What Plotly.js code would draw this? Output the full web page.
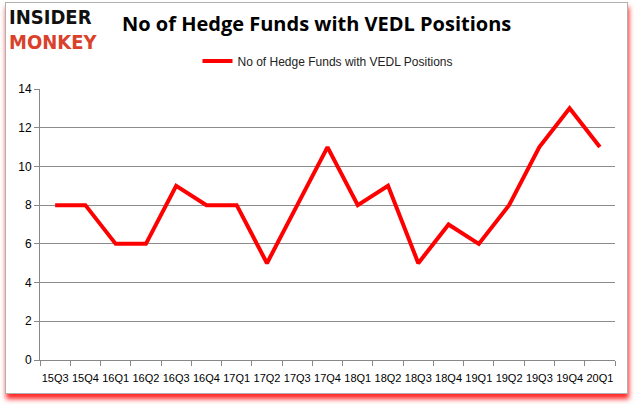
<!DOCTYPE html>
<html>
<head>
<meta charset="utf-8">
<script src="https://cdn.plot.ly/plotly-3.0.1.min.js"></script>
<style>
html,body{margin:0;padding:0;background:#fff;width:635px;height:405px;overflow:hidden;}
#frame{position:absolute;left:5px;top:2px;width:621px;height:390px;border:1px solid #b0b0b0;background:#fff;box-shadow:1px 5px 5px rgba(255,0,0,0.85);}
#chart{position:absolute;left:0;top:0;width:635px;height:405px;}
</style>
</head>
<body>
<div id="frame"></div>
<div id="chart"></div>
<script>
const quarters = ["15Q3","15Q4","16Q1","16Q2","16Q3","16Q4","17Q1","17Q2","17Q3","17Q4","18Q1","18Q2","18Q3","18Q4","19Q1","19Q2","19Q3","19Q4","20Q1"];
const funds = [8,8,6,6,9,8,8,5,8,11,8,9,5,7,6,8,11,13,11];
const seriesName = "No of Hedge Funds with VEDL Positions";
const chartTitle = "No of Hedge Funds with VEDL Positions";

const trace = {
  x: quarters, y: funds, type: "scatter", mode: "lines", name: seriesName,
  line: {color: "#ff0000", width: 4}
};
const layout = {
  width: 635, height: 405,
  paper_bgcolor: "rgba(0,0,0,0)", plot_bgcolor: "rgba(0,0,0,0)",
  margin: {l: 40, r: 20, t: 89, b: 45},
  font: {family: "Liberation Sans, Arial, sans-serif", size: 12, color: "#000"},
  showlegend: true,
  legend: {orientation: "h", x: 0.5, xanchor: "center", y: (360-61)/271, yanchor: "middle",
           font: {size: 12, color: "#222"}, bgcolor: "rgba(0,0,0,0)"},
  xaxis: {type: "category", tickson: "boundaries", ticks: "outside", ticklen: 5,
          tickcolor: "#888", showline: true, linecolor: "#888", linewidth: 1,
          showgrid: false, tickfont: {size: 11}, tickangle: 0, range: [-0.5, 18.5],
          ticklabelstandoff: 8},
  yaxis: {range: [0, 14], dtick: 2, ticks: "outside", ticklen: 5, tickcolor: "#888",
          showline: true, linecolor: "#888", gridcolor: "#8c8c8c", gridwidth: 1,
          zeroline: false, tickfont: {size: 12}},
  annotations: [
    {text: "<b>" + chartTitle + "</b>", xref: "paper", yref: "paper",
     x: (120-40)/575, y: (360-24)/271, xanchor: "left", yanchor: "middle", showarrow: false,
     font: {size: 20, color: "#000", family: "Open Sans, Liberation Sans, sans-serif"}},
    {text: "<b>INSIDER</b>", xref: "paper", yref: "paper",
     x: (7-40)/575, y: (360-17)/271, xanchor: "left", yanchor: "middle", showarrow: false,
     font: {size: 20, color: "#111", family: "DejaVu Sans Condensed, DejaVu Sans, sans-serif"}},
    {text: "<b>MONKEY</b>", xref: "paper", yref: "paper",
     x: (7-40)/575, y: (360-42)/271, xanchor: "left", yanchor: "middle", showarrow: false,
     font: {size: 20, color: "#d9412b", family: "DejaVu Sans Condensed, DejaVu Sans, sans-serif"}}
  ]
};
Plotly.newPlot("chart", [trace], layout, {displayModeBar: false, staticPlot: true});
</script>
</body>
</html>
